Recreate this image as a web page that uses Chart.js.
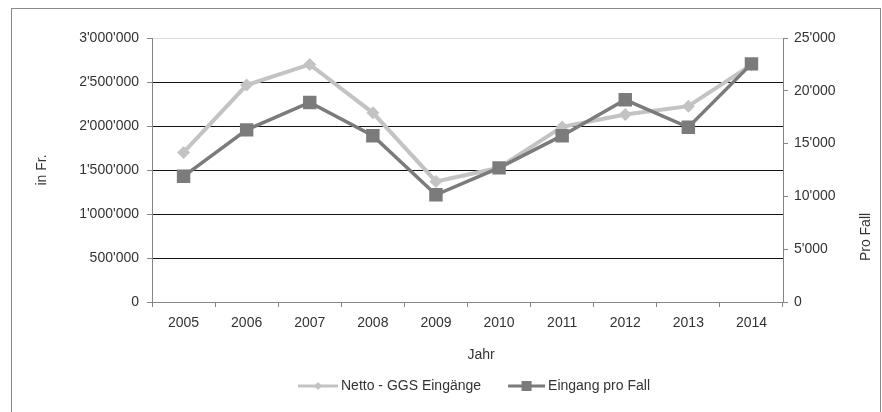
<!DOCTYPE html>
<html><head><meta charset="utf-8">
<script src="https://cdn.jsdelivr.net/npm/chart.js@4/dist/chart.umd.min.js"></script>
<style>html,body{margin:0;padding:0;background:#fff}#wrap{position:relative;width:882px;height:412px}</style>
</head><body><div id="wrap"><canvas id="c" width="882" height="412"></canvas></div>
<script>
const years = ['2005','2006','2007','2008','2009','2010','2011','2012','2013','2014'];
const nettoEingaenge = [1700000, 2465000, 2700000, 2150000, 1370000, 1525000, 1990000, 2130000, 2225000, 2695000];
const eingangProFall = [11900, 16300, 18900, 15750, 10150, 12700, 15750, 19150, 16550, 22550];
const seriesLabels = ['Netto - GGS Eingänge', 'Eingang pro Fall'];
const axisTitles = { left: 'in Fr.', right: 'Pro Fall', x: 'Jahr' };
const leftMax = 3000000, leftStep = 500000;
const rightMax = 25000, rightStep = 5000;

const FONT = "'Liberation Sans', Arial, sans-serif";
const FSIZE = 14;
const TXT = '#333333';
const AXIS = '#868686';
const fmt = v => String(v).replace(/\B(?=(\d{3})+(?!\d))/g, "'");

const frame = {
  id: 'frame',
  beforeDraw(chart) {
    const ctx = chart.ctx;
    ctx.save();
    ctx.fillStyle = '#fff'; ctx.fillRect(0, 0, chart.width, chart.height);
    ctx.strokeStyle = '#8a8a8a'; ctx.lineWidth = 1;
    ctx.strokeRect(11.5, 8.5, 869, 430);
    ctx.restore();
  },
  afterDraw(chart) {
    const ctx = chart.ctx;
    const a = chart.chartArea;
    ctx.save();
    ctx.fillStyle = TXT;
    ctx.font = FSIZE + 'px ' + FONT;
    ctx.textAlign = 'center'; ctx.textBaseline = 'middle';
    // axis titles
    ctx.save(); ctx.translate(42, (a.top + a.bottom) / 2); ctx.rotate(-Math.PI / 2);
    ctx.fillText(axisTitles.left, 0, 0); ctx.restore();
    ctx.save(); ctx.translate(866, 237); ctx.rotate(-Math.PI / 2);
    ctx.fillText(axisTitles.right, 0, 0); ctx.restore();
    ctx.fillText(axisTitles.x, 481, 355);
    // legend
    const ds = chart.data.datasets;
    const lineW = [40, 37], gapT = 3, gapItem = 27;
    const widths = ds.map(d => ctx.measureText(d.label).width);
    const total = lineW[0] + gapT + widths[0] + gapItem + lineW[1] + gapT + widths[1];
    let x = 474 - total / 2;
    const y = 386;
    ds.forEach((d, i) => {
      ctx.strokeStyle = d.borderColor; ctx.lineWidth = 3;
      ctx.beginPath(); ctx.moveTo(x, y); ctx.lineTo(x + lineW[i], y); ctx.stroke();
      ctx.fillStyle = d.borderColor;
      const cx = x + lineW[i] / 2;
      if (i === 0) {
        ctx.beginPath(); ctx.moveTo(cx, y - 4); ctx.lineTo(cx + 4, y); ctx.lineTo(cx, y + 4); ctx.lineTo(cx - 4, y); ctx.closePath(); ctx.fill();
      } else {
        ctx.fillRect(cx - 5, y - 5, 10, 10);
      }
      x += lineW[i] + gapT;
      ctx.fillStyle = TXT; ctx.textAlign = 'left';
      ctx.fillText(d.label, x, y);
      x += widths[i] + gapItem;
    });
    ctx.restore();
  }
};

new Chart(document.getElementById('c'), {
  type: 'line',
  data: {
    labels: years,
    datasets: [
      { label: seriesLabels[0], data: nettoEingaenge, yAxisID: 'y',
        borderColor: '#c3c3c3', backgroundColor: '#c3c3c3', borderWidth: 4,
        pointStyle: 'rectRot', pointRadius: 6.5, pointBorderWidth: 0, pointHoverRadius: 6.5,
        tension: 0, order: 2 },
      { label: seriesLabels[1], data: eingangProFall, yAxisID: 'y1',
        borderColor: '#7b7b7b', backgroundColor: '#7b7b7b', borderWidth: 3.5,
        pointStyle: 'rect', pointRadius: 9.5, pointBorderWidth: 0, pointHoverRadius: 9.5,
        tension: 0, order: 1 }
    ]
  },
  options: {
    responsive: false, animation: false, devicePixelRatio: 1,
    layout: { padding: { top: 38, left: 0, right: 0, bottom: 44 } },
    plugins: { tooltip: { enabled: false }, legend: { display: false } },
    scales: {
      x: {
        offset: true,
        grid: { offset: true, drawOnChartArea: false, tickLength: 5, color: AXIS },
        border: { color: AXIS },
        ticks: { color: TXT, font: { family: FONT, size: FSIZE }, padding: 8 },
        afterFit(s) { s.height = 66; }
      },
      y: {
        position: 'left', min: 0, max: leftMax,
        grid: {
          tickLength: 5, tickColor: AXIS, lineWidth: 1,
          color: c => c.tick.value === leftMax ? '#dcdcdc' : (c.tick.value === 0 ? AXIS : '#111')
        },
        border: { color: AXIS },
        ticks: { stepSize: leftStep, color: TXT, font: { family: FONT, size: FSIZE }, padding: 8, callback: v => fmt(v) },
        afterFit(s) { s.width = 152; }
      },
      y1: {
        position: 'right', min: 0, max: rightMax,
        grid: { drawOnChartArea: false, tickLength: 5, tickColor: AXIS },
        border: { color: AXIS },
        ticks: { stepSize: rightStep, color: TXT, font: { family: FONT, size: FSIZE }, padding: 6, callback: v => fmt(v) },
        afterFit(s) { s.width = 99; }
      }
    }
  },
  plugins: [frame]
});
</script></body></html>
